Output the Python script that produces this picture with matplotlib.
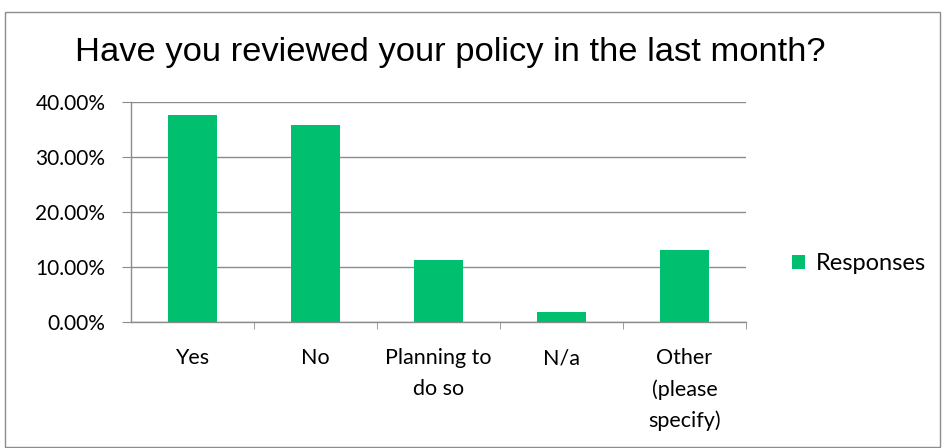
import matplotlib
matplotlib.use("Agg")
import matplotlib.pyplot as plt
from matplotlib.patches import Rectangle
from matplotlib.ticker import FuncFormatter, MultipleLocator

categories = ["Yes", "No", "Planning to\ndo so", "N/a", "Other\n(please\nspecify)"]
responses = [37.70, 35.90, 11.30, 1.75, 13.05]
series_name = "Responses"
title = "Have you reviewed your policy in the last month?"

bar_color = "#00BF6F"
grid_color = "#8C8C8C"
label_font = ["Lato", "DejaVu Sans"]

fig = plt.figure(figsize=(9.43, 4.48), dpi=100)
fig.patch.set_facecolor("white")

# outer chart frame
fig.patches.append(Rectangle((5 / 943, 1 / 448), 935 / 943, 435 / 448,
                             transform=fig.transFigure, fill=False,
                             edgecolor="#8C8C8C", linewidth=1.0))

ax = fig.add_axes([131 / 943, 1 - 322 / 448, 615 / 943, 220 / 448])
x = list(range(len(categories)))
bars = ax.bar(x, responses, width=0.4, color=bar_color, label=series_name, zorder=3)

ax.set_xlim(-0.5, len(categories) - 0.5)
ax.set_ylim(0, 40)
ax.yaxis.set_major_locator(MultipleLocator(10))
ax.yaxis.set_major_formatter(FuncFormatter(lambda v, p: f"{v:.2f}%"))
ax.grid(axis="y", color=grid_color, linewidth=1.0, zorder=0)

for side in ["top", "right"]:
    ax.spines[side].set_visible(False)
for side in ["left", "bottom"]:
    ax.spines[side].set_color(grid_color)
    ax.spines[side].set_linewidth(1.0)

ax.set_xticks(x)
ax.set_xticklabels(categories, fontsize=15.5, family=label_font, linespacing=1.65,
                   va="top")
ax.tick_params(axis="x", length=0, pad=19)
ax.set_xticks([i + 0.5 for i in x[:-1]] + [len(categories) - 0.5], minor=True)
ax.tick_params(axis="x", which="minor", length=5, color=grid_color, direction="out")
ax.tick_params(axis="y", length=6.5, color=grid_color, direction="out", pad=12)
for lbl in ax.get_yticklabels():
    lbl.set_fontsize(15)
    lbl.set_family(label_font)

fig.text(450 / 943, 1 - 53 / 448, title, ha="center", va="center",
         fontsize=24.8, family=["Liberation Sans", "DejaVu Sans"])

leg = fig.legend(handles=[bars], labels=[series_name], loc="center left",
                 bbox_to_anchor=(771 / 943, 1 - 264 / 448), frameon=False,
                 prop={"family": label_font, "size": 17},
                 handlelength=0.55, handleheight=0.55, handletextpad=0.45)

fig.savefig("out.png", dpi=100, facecolor="white")
